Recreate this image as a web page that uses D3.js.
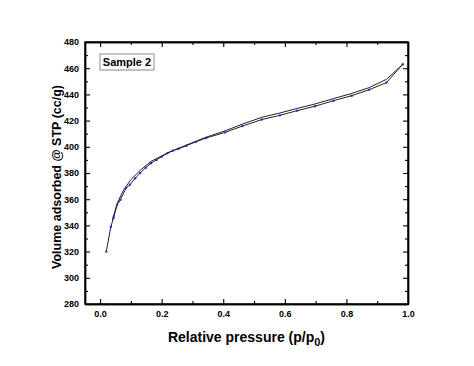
<!DOCTYPE html>
<html>
<head>
<meta charset="utf-8">
<script src="https://cdn.jsdelivr.net/npm/d3@7"></script>
<style>
  body { margin: 0; background: #fff; }
  svg { display: block; font-family: "Liberation Sans", Arial, sans-serif; }
  .axis path { stroke: #000; stroke-width: 1.4; }
  .axis line { stroke: #000; stroke-width: 1.1; }
  .axis text { font-size: 9px; font-weight: bold; fill: #000; }
</style>
</head>
<body>
<script>
// adsorption branch (with markers)
const adsX = [0.02, 0.035, 0.044, 0.055, 0.066, 0.084, 0.097, 0.114, 0.13, 0.148, 0.165, 0.183, 0.2, 0.218, 0.236, 0.255, 0.28, 0.31, 0.344, 0.406, 0.462, 0.525, 0.584, 0.64, 0.698, 0.758, 0.817, 0.874, 0.93, 0.983];
const adsY = [320, 339, 346, 355.5, 359.5, 368.5, 371, 376, 380, 384, 387.5, 390, 392.5, 395, 397, 398.5, 400.8, 403.7, 406.7, 411, 415.8, 420.8, 424, 427.6, 431, 435.2, 439, 443.6, 449, 463];
// desorption branch
const desX = [0.983, 0.93, 0.874, 0.817, 0.758, 0.698, 0.64, 0.584, 0.525, 0.462, 0.406, 0.344, 0.28, 0.22, 0.165, 0.13, 0.1, 0.075, 0.055, 0.04];
const desY = [463, 451.5, 445.2, 440.7, 436.8, 432.7, 429.3, 425.8, 422.5, 417.3, 412.2, 407.3, 401.3, 395.5, 388.8, 382, 375, 366.5, 356.5, 344];

const xTicks = [0, 0.2, 0.4, 0.6, 0.8, 1.0];
const xMinor = [0.1, 0.3, 0.5, 0.7, 0.9];
const yTicks = [280, 300, 320, 340, 360, 380, 400, 420, 440, 460, 480];
const yMinor = [290, 310, 330, 350, 370, 390, 410, 430, 450, 470];

const width = 474, height = 366;
const margin = { top: 42, right: 66, bottom: 62, left: 85 };
const w = width - margin.left - margin.right;
const h = height - margin.top - margin.bottom;

const x = d3.scaleLinear().domain([-0.049, 1.0]).range([0, w]);
const y = d3.scaleLinear().domain([280, 480]).range([h, 0]);

const svg = d3.select('body').append('svg')
    .attr('width', width)
    .attr('height', height);

const g = svg.append('g')
    .attr('transform', 'translate(' + margin.left + ',' + margin.top + ')');

// axes: inward ticks on all four sides
function addAxis (axisFn, scale, values, size, transform, fmt, pad) {
  const a = axisFn(scale).tickValues(values).tickSizeInner(-size).tickSizeOuter(0)
    .tickPadding(pad || 6)
    .tickFormat(fmt ? d3.format(fmt) : '');
  return g.append('g').attr('class', 'axis').attr('transform', transform).call(a);
}

addAxis(d3.axisBottom, x, xTicks, 5, 'translate(0,' + h + ')', '.1f', 7);
addAxis(d3.axisBottom, x, xMinor, 3, 'translate(0,' + h + ')', null);
addAxis(d3.axisTop, x, xTicks, 5, 'translate(0,0)', null);
addAxis(d3.axisTop, x, xMinor, 3, 'translate(0,0)', null);

addAxis(d3.axisLeft, y, yTicks, 5, 'translate(0,0)', 'd', 6);
addAxis(d3.axisLeft, y, yMinor, 3, 'translate(0,0)', null);
addAxis(d3.axisRight, y, yTicks, 5, 'translate(' + w + ',0)', null);
addAxis(d3.axisRight, y, yMinor, 3, 'translate(' + w + ',0)', null);

// frame
g.append('rect')
    .attr('width', w).attr('height', h)
    .attr('fill', 'none').attr('stroke', '#000').attr('stroke-width', 1.4);

const line = d3.line()
    .x((d) => x(d[0]))
    .y((d) => y(d[1]));

const ads = adsX.map((v, i) => [v, adsY[i]]);
const des = desX.map((v, i) => [v, desY[i]]);

g.append('path').datum(des)
    .attr('d', line).attr('fill', 'none')
    .attr('stroke', '#222').attr('stroke-width', 1);

g.append('path').datum(ads)
    .attr('d', line).attr('fill', 'none')
    .attr('stroke', '#222').attr('stroke-width', 1);

g.selectAll('.pt').data(ads).enter().append('circle')
    .attr('class', 'pt')
    .attr('cx', (d) => x(d[0]))
    .attr('cy', (d) => y(d[1]))
    .attr('r', 1.2)
    .attr('fill', '#2a2ad0');

// legend box
const box = g.append('g').attr('transform', 'translate(15,12)');
box.append('rect')
    .attr('width', 54).attr('height', 16)
    .attr('fill', '#fff').attr('stroke', '#888').attr('stroke-width', 1);
box.append('text')
    .attr('x', 27).attr('y', 12)
    .attr('text-anchor', 'middle')
    .style('font-size', '11px').style('font-weight', 'bold')
    .text('Sample 2');

// axis titles
const xt = svg.append('text')
    .attr('x', margin.left + w / 2)
    .attr('y', 342)
    .attr('text-anchor', 'middle')
    .style('font-size', '14px').style('font-weight', 'bold')
    .text('Relative pressure (p/p');
xt.append('tspan').attr('dy', 4).style('font-size', '11px').text('0');
xt.append('tspan').attr('dy', -4).text(')');

svg.append('text')
    .attr('transform', 'translate(61,177) rotate(-90)')
    .attr('text-anchor', 'middle')
    .style('font-size', '12.5px').style('font-weight', 'bold')
    .text('Volume adsorbed @ STP (cc/g)');
</script>
</body>
</html>
